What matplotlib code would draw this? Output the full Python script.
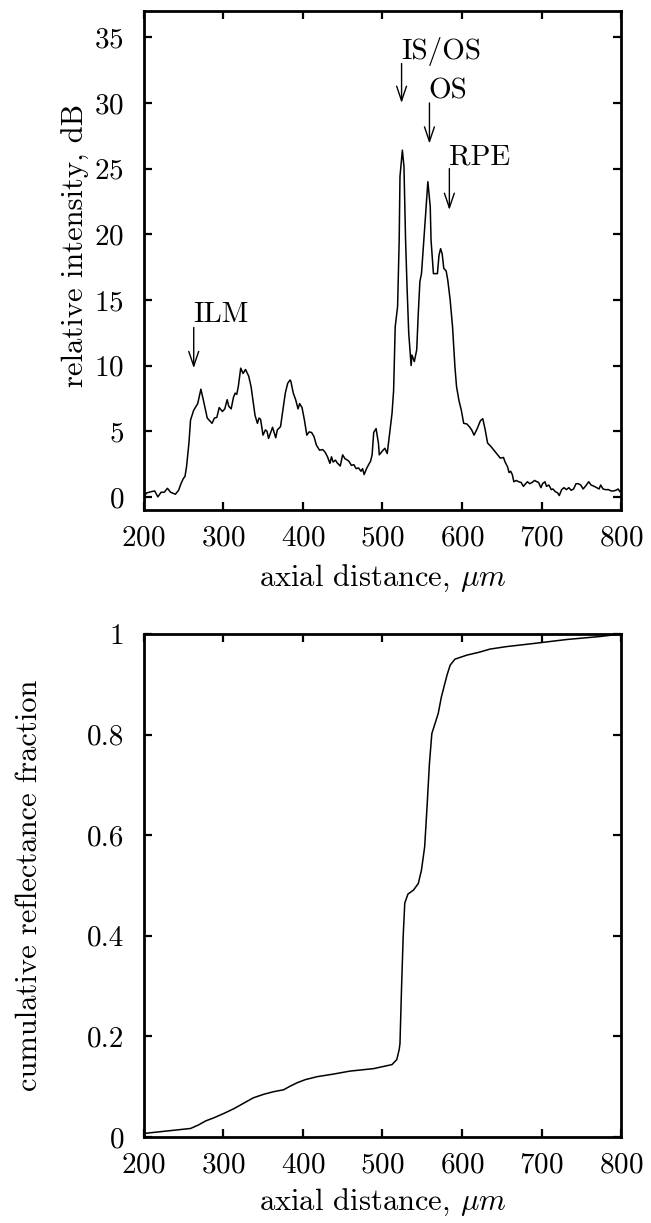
import matplotlib
matplotlib.use("Agg")
import matplotlib.pyplot as plt

plt.rcParams.update({
    'font.family': 'cmr10',
    'mathtext.fontset': 'cm',
    'axes.formatter.use_mathtext': True,
    'font.size': 21,
    'axes.labelsize': 22,
    'axes.linewidth': 2.0,
    'xtick.direction': 'in',
    'ytick.direction': 'in',
    'xtick.top': True,
    'ytick.right': True,
    'xtick.major.size': 6,
    'ytick.major.size': 6,
    'xtick.major.width': 1.6,
    'ytick.major.width': 1.6,
})

# top panel: A-scan intensity profile
axial_um = [200, 204, 210, 214, 218, 222, 226, 230, 234, 240, 244, 247, 250, 252, 254,
            257, 259, 263, 266, 268, 272, 275, 280, 283, 286, 289, 292, 295, 299, 302,
            305, 307, 310, 313, 315, 317, 319, 322, 325, 328, 332, 335, 338, 340, 343,
            345, 347, 350, 353, 355, 357, 359, 362, 366, 368, 372, 375, 378, 381, 384,
            385, 388, 391, 394, 396, 399, 402, 405, 408, 411, 414, 417, 421, 425, 428,
            431, 434, 436, 438, 441, 443, 447, 450, 453, 456, 458, 461, 464, 467, 470,
            473, 475, 477, 480, 483, 485, 487, 489, 492, 495, 496, 500, 503, 506, 509,
            512, 514, 516, 519, 521, 522, 525, 527, 529, 531, 533, 536, 537, 540, 543,
            545, 547, 549, 552, 554, 557, 560, 561, 564, 569, 571, 573, 575, 577, 580,
            582, 585, 588, 589, 591, 593, 596, 599, 602, 606, 609, 612, 615, 619, 623,
            626, 629, 632, 636, 640, 644, 648, 652, 654, 657, 659, 661, 663, 665, 668,
            671, 674, 677, 679, 682, 685, 688, 691, 694, 696, 699, 701, 704, 706, 709,
            712, 714, 717, 720, 722, 725, 728, 731, 734, 737, 740, 743, 746, 749, 752,
            756, 759, 762, 766, 769, 772, 774, 777, 780, 784, 787, 790, 793, 796, 798,
            800]
intensity_db = [0.0, 0.3, 0.4, 0.45, 0.0, 0.35, 0.35, 0.65, 0.35, 0.2, 0.5, 1.0, 1.4, 1.55, 2.3,
                4.1, 5.85, 6.6, 6.9, 7.1, 8.2, 7.4, 6.0, 5.8, 5.6, 6.0, 6.05, 6.8, 6.5, 6.7,
                7.4, 6.9, 6.7, 7.6, 7.9, 7.8, 8.4, 9.8, 9.4, 9.7, 9.2, 8.4, 7.1, 6.2, 5.6,
                6.0, 5.9, 4.7, 5.1, 5.0, 4.45, 4.8, 5.3, 4.5, 5.1, 5.35, 6.6, 7.9, 8.65, 8.9,
                8.8, 7.9, 7.4, 6.7, 7.1, 6.8, 5.85, 4.7, 4.95, 4.9, 4.6, 3.95, 3.55, 3.6, 3.4,
                3.05, 2.55, 3.05, 2.65, 2.8, 2.6, 2.35, 3.2, 2.9, 2.8, 2.7, 2.4, 2.45, 2.15, 2.2,
                1.95, 2.15, 1.7, 2.15, 2.5, 2.7, 3.2, 4.9, 5.2, 4.05, 3.2, 3.5, 3.7, 3.3, 4.8,
                6.35, 8.1, 12.95, 14.5, 19.55, 24.4, 26.4, 25.15, 19.6, 15.75, 12.45, 10.0, 10.8, 10.3, 11.2,
                14.0, 16.4, 17.0, 19.55, 21.35, 24.0, 22.1, 19.55, 17.0, 17.0, 18.4, 18.9, 18.5, 17.4, 17.2,
                16.5, 15.0, 12.95, 11.95, 9.9, 8.4, 7.35, 6.6, 5.6, 5.55, 5.35, 5.1, 4.7, 5.2, 5.8,
                5.95, 5.1, 4.1, 3.85, 3.55, 3.25, 2.95, 3.0, 2.65, 2.3, 1.85, 1.95, 1.7, 1.15, 1.25,
                1.15, 1.1, 0.8, 0.95, 1.15, 1.0, 1.1, 1.25, 1.15, 1.1, 0.7, 1.0, 1.15, 0.8, 0.9,
                0.55, 0.6, 0.4, 0.3, 0.1, 0.55, 0.7, 0.55, 0.7, 0.5, 0.6, 1.0, 1.0, 0.9, 0.6,
                0.9, 1.15, 0.9, 0.8, 0.7, 0.6, 0.9, 0.6, 0.55, 0.55, 0.45, 0.45, 0.5, 0.6, 0.4,
                0.5]

# layer labels: name, axial position, arrow top, arrow tip, text baseline
layer_names = ['ILM', 'IS/OS', 'OS', 'RPE']
layer_pos = [263, 524, 559, 584]
arrow_top = [12.9, 33.0, 30.0, 25.0]
arrow_tip = [9.8, 30.0, 26.9, 21.85]
label_y = [13.3, 33.35, 30.35, 25.3]

# bottom panel: cumulative reflectance
cum_um = [200, 259, 269, 278, 288, 301, 313, 321, 330, 338, 351, 363, 376, 384, 393,
          403, 418, 438, 459, 489, 512, 518, 521, 522, 524, 526, 528, 532, 539, 545,
          549, 553, 556, 559, 562, 566, 570, 574, 581, 585, 591, 606, 622, 635, 656,
          689, 731, 773, 800]
cum_frac = [0.007, 0.017, 0.024, 0.032, 0.038, 0.047, 0.056, 0.063, 0.071, 0.078, 0.085, 0.090, 0.094, 0.101, 0.108,
            0.114, 0.120, 0.125, 0.131, 0.136, 0.144, 0.154, 0.174, 0.186, 0.299, 0.398, 0.465, 0.483, 0.491, 0.504,
            0.531, 0.577, 0.657, 0.743, 0.802, 0.822, 0.842, 0.875, 0.918, 0.938, 0.950, 0.958, 0.964, 0.970, 0.975,
            0.981, 0.989, 0.995, 1.0]

x_ticks = [200, 300, 400, 500, 600, 700, 800]
db_ticks = [0, 5, 10, 15, 20, 25, 30, 35]
frac_ticks = [0, 0.2, 0.4, 0.6, 0.8, 1.0]
frac_labels = ['0', '0.2', '0.4', '0.6', '0.8', '1']

fig = plt.figure(figsize=(6.51, 12.23), dpi=100)

# top panel
ax1 = fig.add_axes([0.2205, 0.583, 0.734, 0.408])
ax1.plot(axial_um, intensity_db, color='black', lw=1.1)
ax1.set_xlim(200, 800)
ax1.set_ylim(-1, 37)
ax1.set_xticks(x_ticks)
ax1.set_yticks(db_ticks)
ax1.tick_params(axis='y', pad=14)
ax1.tick_params(axis='x', pad=11)
ax1.set_xlabel(r'axial distance, $\mu m$', labelpad=8)
ax1.set_ylabel('relative intensity, dB')
ax1.yaxis.set_label_coords(-0.112, 0.53)

for name, xp, top, tip, ly in zip(layer_names, layer_pos, arrow_top, arrow_tip, label_y):
    ax1.annotate('', xy=(xp, tip), xytext=(xp, top),
                 arrowprops=dict(arrowstyle='->,head_length=0.5,head_width=0.17',
                                 color='black', lw=1.0, shrinkA=0, shrinkB=0))
    ax1.text(xp - 1, ly, name, ha='left', va='baseline')

# bottom panel
ax2 = fig.add_axes([0.2205, 0.0703, 0.734, 0.4113])
ax2.plot(cum_um, cum_frac, color='black', lw=1.1)
ax2.set_xlim(200, 800)
ax2.set_ylim(0, 1)
ax2.set_xticks(x_ticks)
ax2.set_yticks(frac_ticks)
ax2.set_yticklabels(frac_labels)
ax2.tick_params(axis='y', pad=14)
ax2.tick_params(axis='x', pad=11)
ax2.set_xlabel(r'axial distance, $\mu m$', labelpad=6)
ax2.set_ylabel('cumulative reflectance fraction')
ax2.yaxis.set_label_coords(-0.21, 0.5)

fig.savefig('out.png', dpi=100)
